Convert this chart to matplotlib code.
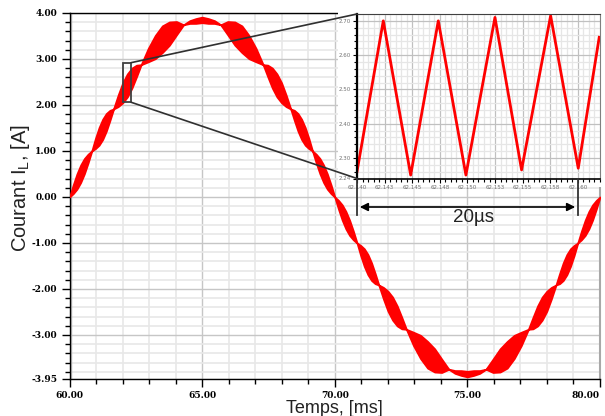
import numpy as np
import matplotlib
matplotlib.use("Agg")
import matplotlib.pyplot as plt
from matplotlib.patches import Rectangle, ConnectionPatch, FancyArrowPatch
from matplotlib.ticker import MultipleLocator, FixedLocator

plt.rcParams['mathtext.default'] = 'regular'

# centre of the current band, read every 0.5 ms from 60 to 80 ms
t_centre = np.linspace(60.0, 80.0, 41)
i_centre = [0.00, 0.60, 1.19, 1.75, 2.26, 2.72, 3.11, 3.43, 3.66, 3.80, 3.85,
            3.80, 3.66, 3.43, 3.11, 2.72, 2.26, 1.75, 1.19, 0.60, 0.00,
            -0.60, -1.19, -1.75, -2.26, -2.72, -3.11, -3.43, -3.66, -3.80, -3.85,
            -3.80, -3.66, -3.43, -3.11, -2.72, -2.26, -1.75, -1.19, -0.60, 0.00]

# pinch points of the ripple band and half ripple of each lobe (A)
node_t = [60.0, 60.84, 61.66, 62.70, 64.30, 65.70, 67.30, 68.34, 69.16, 70.0,
          70.84, 71.66, 72.70, 74.30, 75.70, 77.30, 78.34, 79.16, 80.0]
lobe_hw = [0.19, 0.22, 0.25, 0.29, 0.06, 0.29, 0.25, 0.22, 0.19,
           0.19, 0.22, 0.25, 0.29, 0.06, 0.29, 0.25, 0.22, 0.19]

# zoomed ripple (inset), vertices of the triangle wave
inset_t = [62.14000, 62.14238, 62.14486, 62.14736, 62.14986, 62.15249,
           62.15490, 62.15753, 62.16003, 62.16193]
inset_i = [2.26, 2.70, 2.25, 2.70, 2.25, 2.71, 2.265, 2.715, 2.27, 2.652]

x_ticks = [60, 65, 70, 75, 80]
x_labels = ["60.00", "65.00", "70.00", "75.00", "80.00"]
y_ticks = [4, 3, 2, 1, 0, -1, -2, -3, -3.95]
y_labels = ["4.00", "3.00", "2.00", "1.00", "0.00", "-1.00", "-2.00", "-3.00", "-3.95"]

in_xticks = [62.14, 62.1425, 62.145, 62.1475, 62.15, 62.1525, 62.155, 62.1575, 62.16]
in_xlabels = ["62.140", "62.143", "62.145", "62.148", "62.150", "62.153", "62.155", "62.158", "62.160"]
in_yticks = [2.24, 2.3, 2.4, 2.5, 2.6, 2.7]
in_ylabels = ["2.24", "2.30", "2.40", "2.50", "2.60", "2.70"]

W, H = 605, 416
fig = plt.figure(figsize=(W / 100, H / 100), dpi=100)
fig.patch.set_facecolor("white")

def fx(px):
    return px / W

def fy(py):
    return (H - py) / H

ax = fig.add_axes([fx(69.5), fy(378.7), fx(600 - 69.5), (378.7 - 13) / H])
ax.set_zorder(0)

# band built lobe by lobe
shape = [0, 0.5, 0.87, 1.0, 0.87, 0.5]
tt, hw = [], []
for a, b, w in zip(node_t[:-1], node_t[1:], lobe_hw):
    for k, s in enumerate(shape):
        tt.append(a + (b - a) * k / len(shape))
        hw.append(w * s)
tt.append(node_t[-1])
hw.append(0.0)
tt = np.array(tt)
hw = np.array(hw)
cc = np.interp(tt, t_centre, i_centre)
ax.fill_between(tt, cc - hw, cc + hw, facecolor="#ff0000", edgecolor="#ff0000",
                linewidth=1.3, zorder=3)

ax.set_xlim(60, 80)
ax.set_ylim(-3.95, 4.0)
ax.set_xticks(x_ticks)
ax.set_xticklabels(x_labels)
ax.xaxis.set_minor_locator(MultipleLocator(1))
ax.set_yticks(y_ticks)
ax.set_yticklabels(y_labels)
ax.yaxis.set_minor_locator(FixedLocator(np.arange(-3.8, 3.81, 0.2)))
for lab in ax.get_xticklabels() + ax.get_yticklabels():
    lab.set_fontfamily("DejaVu Serif")
    lab.set_fontweight("bold")
    lab.set_fontsize(6.5)
ax.get_xticklabels()[-1].set_horizontalalignment("right")
ax.tick_params(which="major", length=6, width=1, pad=3)
ax.tick_params(which="minor", length=3.5, width=1)
ax.grid(which="major", color="#c6c6c6", linewidth=1.0)
ax.grid(which="minor", color="#e8e8e8", linewidth=1.2)
ax.set_axisbelow(True)
ax.axvline(60, color="#c0c0c0", linewidth=2.5, zorder=2)
for s in ["left", "bottom", "top"]:
    ax.spines[s].set_color("black")
    ax.spines[s].set_linewidth(1.0)
ax.spines["right"].set_color("#a8a8a8")
ax.spines["right"].set_linewidth(1.5)

ax.set_xlabel("Temps, [ms]", fontfamily="Liberation Sans", fontsize=13, labelpad=0, color="#222222")
fig.text(fx(21), fy(188), "Courant I$_\\mathregular{L}$, [A]", fontfamily="Liberation Sans",
         fontsize=14.5, rotation=90, ha="center", va="center", color="#222222")

# zoom rectangle
ax.add_patch(Rectangle((62.0, 2.06), 0.32, 0.86, fill=False, edgecolor="#404040",
                       linewidth=1.3, zorder=5))

# white background behind the inset
fig.add_artist(Rectangle((fx(338), fy(187)), 1 - fx(338), fy(0) - fy(187),
                         transform=fig.transFigure, facecolor="white", edgecolor="none",
                         zorder=1))

ins = fig.add_axes([fx(357), fy(178.5), fx(600 - 357), (178.5 - 14) / H])
ins.set_zorder(2)
ins.plot(inset_t, inset_i, color="#ff0000", linewidth=2)
ins.set_xlim(62.140, 62.162)
ins.set_ylim(2.24, 2.72)
ins.set_xticks(in_xticks)
ins.set_xticklabels(in_xlabels)
ins.set_yticks(in_yticks)
ins.set_yticklabels(in_ylabels)
ins.xaxis.set_minor_locator(MultipleLocator(0.0005))
ins.yaxis.set_minor_locator(MultipleLocator(0.02))
ins.tick_params(which="both", labelsize=4, labelcolor="#707070", width=0.8)
ins.tick_params(which="major", length=3, pad=1.5)
ins.tick_params(which="minor", length=2)
ins.grid(which="major", color="#c0c0c0", linewidth=0.9)
ins.grid(which="minor", color="#e6e6e6", linewidth=0.9)
ins.set_axisbelow(True)
ins.spines["left"].set_linewidth(1.6)
ins.spines["bottom"].set_linewidth(1.2)
ins.spines["top"].set_color("#404040")
ins.spines["right"].set_color("#808080")

# connector lines from rectangle to inset
for ya, yb in [(2.92, 1.0), (2.06, 0.0)]:
    con = ConnectionPatch(xyA=(62.32, ya), coordsA="data", axesA=ax,
                          xyB=(0.0, yb), coordsB="axes fraction", axesB=ins,
                          color="#303030", linewidth=1.2, zorder=4)
    fig.add_artist(con)

# 20 us dimension
for px in [357, 578]:
    fig.add_artist(plt.Line2D([fx(px), fx(px)], [fy(178.5), fy(215)],
                              transform=fig.transFigure, color="#333333", linewidth=1.3, zorder=4))
fig.add_artist(FancyArrowPatch((fx(357), fy(207)), (fx(578), fy(207)),
                               transform=fig.transFigure, arrowstyle="<|-|>",
                               mutation_scale=12, color="black", linewidth=1.2, zorder=4))
fig.text(fx(473), fy(217.5), "20µs", fontfamily="Liberation Sans", fontsize=13.5,
         ha="center", va="center", color="#222222", zorder=4)

fig.savefig("out.png", dpi=100)
